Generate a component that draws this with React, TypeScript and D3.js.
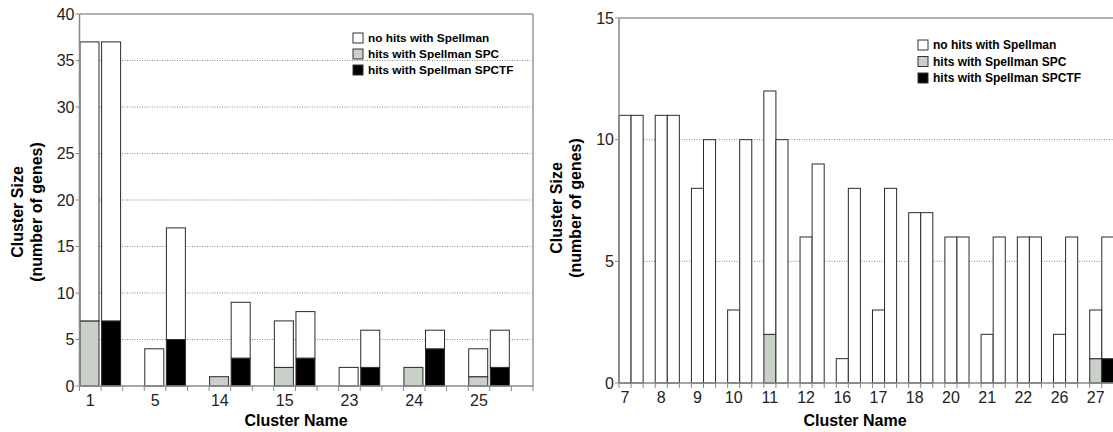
import React from 'react';
import * as d3 from 'd3';

const leftClusters = ['1', '5', '14', '15', '23', '24', '25'];
const leftSpcTotal = [37, 4, 1, 7, 2, 2, 4];
const leftSpcHits = [7, 0, 1, 2, 0, 2, 1];
const leftSpctfTotal = [37, 17, 9, 8, 6, 6, 6];
const leftSpctfHits = [7, 5, 3, 3, 2, 4, 2];
const leftYTicks = [0, 5, 10, 15, 20, 25, 30, 35, 40];

const rightClusters = ['7', '8', '9', '10', '11', '12', '16', '17', '18', '20', '21', '22', '26', '27'];
const rightSpcTotal = [11, 11, 8, 3, 12, 6, 1, 3, 7, 6, 2, 6, 2, 3];
const rightSpcHits = [0, 0, 0, 0, 2, 0, 0, 0, 0, 0, 0, 0, 0, 1];
const rightSpctfTotal = [11, 11, 10, 10, 10, 9, 8, 8, 7, 6, 6, 6, 6, 6];
const rightSpctfHits = [0, 0, 0, 0, 0, 0, 0, 0, 0, 0, 0, 0, 0, 1];
const rightYTicks = [0, 5, 10, 15];

const legendLabels = ['no hits with Spellman', 'hits with Spellman SPC', 'hits with Spellman SPCTF'];
const legendColors = ['#ffffff', '#c8d0c8', '#000000'];

const GRAY = '#c8d0c8';
const FONT = 'Arial, "Liberation Sans", sans-serif';

type PanelProps = {
  clusters: string[];
  spcTotal: number[];
  spcHits: number[];
  spctfTotal: number[];
  spctfHits: number[];
  yTicks: number[];
  yMax: number;
  x0: number;
  x1: number;
  y0: number;
  y1: number;
  barFrac: number;
  barOffset: number;
  drawRight: boolean;
  legendX: number;
  legendY: number;
  legendStep: number;
  legendFont: number;
  titleX: number;
  titleY: number;
  xTitleX: number;
};

function Panel(p: PanelProps) {
  const nSlots = p.clusters.length * 3;
  const slots = d3.range(nSlots).map(String);
  const x = d3.scaleBand<string>().domain(slots).range([p.x0, p.x1]).padding(0);
  const y = d3.scaleLinear().domain([0, p.yMax]).range([p.y0, p.y1]);
  const bw = x.bandwidth();
  const barW = bw * p.barFrac;

  const bars: React.ReactNode[] = [];
  p.clusters.forEach((c, g) => {
    const series = [
      { total: p.spcTotal[g], hits: p.spcHits[g], fill: GRAY, slot: g * 3 },
      { total: p.spctfTotal[g], hits: p.spctfHits[g], fill: '#000', slot: g * 3 + 1 },
    ];
    series.forEach((s, j) => {
      const bx = (x(String(s.slot)) as number) + p.barOffset;
      if (s.hits > 0) {
        bars.push(
          <rect key={`h${g}-${j}`} x={bx} y={y(s.hits)} width={barW} height={y(0) - y(s.hits)}
            fill={s.fill} stroke="#2a2a2a" strokeWidth={1} />
        );
      }
      if (s.total > s.hits) {
        bars.push(
          <rect key={`w${g}-${j}`} x={bx} y={y(s.total)} width={barW} height={y(s.hits) - y(s.total)}
            fill="#fff" stroke="#2a2a2a" strokeWidth={1} />
        );
      }
    });
  });

  const tickXs = d3.range(nSlots + 1).map((i) => p.x0 + i * bw);

  return (
    <g>
      {p.yTicks.filter((t) => t > 0 && t < p.yMax).map((t) => (
        <line key={`g${t}`} x1={p.x0} x2={p.x1} y1={y(t)} y2={y(t)} stroke="#8a8a8a"
          strokeWidth={1} strokeDasharray="1,1.5" />
      ))}
      <line x1={p.x0} x2={p.x1} y1={y(p.yMax)} y2={y(p.yMax)} stroke="#999" strokeWidth={1.5} />
      {p.drawRight && (
        <line x1={p.x1} x2={p.x1} y1={y(p.yMax)} y2={y(0)} stroke="#999" strokeWidth={1.5} />
      )}
      {bars}
      <line x1={p.x0} x2={p.x0} y1={y(p.yMax)} y2={y(0)} stroke="#888" strokeWidth={1.5} />
      <line x1={p.x0} x2={p.x1} y1={y(0)} y2={y(0)} stroke="#888" strokeWidth={1.5} />
      {tickXs.map((tx, i) => (
        <line key={`xt${i}`} x1={tx} x2={tx} y1={y(0)} y2={y(0) + 5} stroke="#888" strokeWidth={1} />
      ))}
      {p.yTicks.map((t) => (
        <g key={`yt${t}`}>
          <line x1={p.x0 - 4} x2={p.x0} y1={y(t)} y2={y(t)} stroke="#888" strokeWidth={1} />
          <text x={p.x0 - 5} y={y(t)} dy="0.36em" textAnchor="end" fontSize={16} fill="#222"
            fontFamily={FONT}>{t}</text>
        </g>
      ))}
      {p.clusters.map((c, g) => (
        <text key={`xl${g}`} x={(x(String(g * 3)) as number) + bw / 2} y={y(0) + 20}
          textAnchor="middle" fontSize={16} fill="#222" fontFamily={FONT}>{c}</text>
      ))}
      <text transform={`translate(${p.titleX},${p.titleY}) rotate(-90)`} textAnchor="middle"
        fontSize={16} fontWeight="bold" fontFamily={FONT} fill="#000">
        <tspan x={0} y={0}>Cluster Size</tspan>
        <tspan x={0} y={19}>(number of genes)</tspan>
      </text>
      <text x={p.xTitleX} y={426} textAnchor="middle" fontSize={16} fontWeight="bold"
        fontFamily={FONT} fill="#000">Cluster Name</text>
      {legendLabels.map((l, i) => (
        <g key={`lg${i}`}>
          <rect x={p.legendX} y={p.legendY + i * p.legendStep - 5} width={10} height={10}
            fill={legendColors[i]} stroke="#333" strokeWidth={1} />
          <text x={p.legendX + 15} y={p.legendY + i * p.legendStep} dy="0.36em"
            fontSize={p.legendFont} fontWeight="bold" fontFamily={FONT} fill="#000">{l}</text>
        </g>
      ))}
    </g>
  );
}

export default function App() {
  return (
    <svg width={1113} height={432} style={{ position: 'absolute', left: 0, top: 0, background: '#fff' }}>
      <rect width={1113} height={432} fill="#fff" />
      <Panel clusters={leftClusters} spcTotal={leftSpcTotal} spcHits={leftSpcHits}
        spctfTotal={leftSpctfTotal} spctfHits={leftSpctfHits} yTicks={leftYTicks} yMax={40}
        x0={79.5} x1={533} y0={386} y1={14} barFrac={0.88} barOffset={0.5} drawRight={true}
        legendX={353} legendY={38} legendStep={16} legendFont={11.8}
        titleX={23} titleY={212} xTitleX={296} />
      <Panel clusters={rightClusters} spcTotal={rightSpcTotal} spcHits={rightSpcHits}
        spctfTotal={rightSpctfTotal} spctfHits={rightSpctfHits} yTicks={rightYTicks} yMax={15}
        x0={619} x1={619 + 42 * 12.07} y0={383} y1={18} barFrac={1} barOffset={0} drawRight={false}
        legendX={918} legendY={45} legendStep={16.5} legendFont={12}
        titleX={562} titleY={208} xTitleX={855} />
    </svg>
  );
}
